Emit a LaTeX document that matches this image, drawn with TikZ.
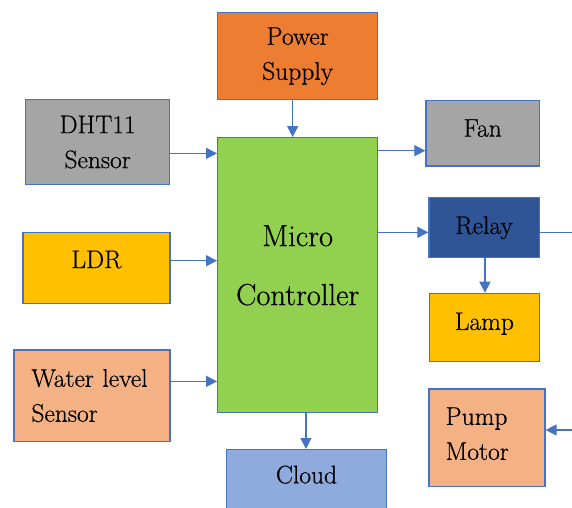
\documentclass[tikz,border=0pt]{standalone}
\usepackage{fontspec}
\setmainfont{Latin Modern Roman}[FakeBold=0.5]
\usetikzlibrary{arrows.meta}
\definecolor{bordc}{HTML}{4472C4}
\definecolor{cpower}{HTML}{ED7D31}
\definecolor{cgray}{HTML}{A5A5A5}
\definecolor{cgreen}{HTML}{92D050}
\definecolor{crelay}{HTML}{2F5597}
\definecolor{cyellow}{HTML}{FFC000}
\definecolor{csalmon}{HTML}{F4B183}
\definecolor{ccloud}{HTML}{8FAADC}
\begin{document}
\begin{tikzpicture}[x=1pt,y=-1pt,
  blk/.style={draw=bordc, line width=1.3pt, anchor=north west, inner sep=0pt,
    align=center, font=\rmfamily\fontsize{25.5}{35}\selectfont},
  oneline/.style={text height=17pt},
  conn/.style={draw=bordc, line width=1.3pt, -{Triangle[length=11pt,width=11pt]}},
  plain/.style={draw=bordc, line width=1.3pt}]
\useasboundingbox (0,0) rectangle (572,507);
\clip (0,0) rectangle (572,507);
% nodes
\node[blk, fill=cpower, minimum width=160pt, minimum height=87pt] (power) at (217,12) {Power\\Supply};
\node[blk, fill=cgray, minimum width=144pt, minimum height=85pt] (dht) at (25,99) {DHT11\\Sensor};
\node[blk, oneline, text depth=17pt, fill=cyellow, minimum width=147pt, minimum height=70.7pt] (ldr) at (22.3,232) {LDR};
\node[blk, fill=csalmon, minimum width=156pt, minimum height=91.4pt, align=left, text width=121pt] (water) at (13.3,349.3) {Water level\\Sensor};
\node[blk, fill=cgreen, minimum width=160pt, minimum height=275pt, font=\rmfamily\fontsize{30.5}{59}\selectfont] (micro) at (217,137) {Micro\\Controller\rule[-20pt]{0pt}{0pt}};
\node[blk, oneline, text depth=10.3pt, fill=cgray, minimum width=113.4pt, minimum height=65.3pt] (fan) at (425.3,100) {Fan};
\node[blk, oneline, text depth=3.8pt, fill=crelay, minimum width=110.4pt, minimum height=60pt] (relay) at (428.3,196.7) {Relay};
\node[blk, oneline, text depth=11.8pt, fill=cyellow, minimum width=110pt, minimum height=68pt] (lamp) at (428.7,292.7) {Lamp};
\node[blk, oneline, text depth=19.6pt, fill=ccloud, minimum width=159.7pt, minimum height=70pt] (cloud) at (226,449) {Cloud};
\node[blk, fill=csalmon, minimum width=116pt, minimum height=97.4pt, align=left, text width=82.6pt] (pump) at (428.3,388.3) {Pump\\Motor\rule[-8pt]{0pt}{0pt}};
% free ends
\path ([yshift=-5pt]relay.east) ++(40,0) coordinate (rout);
\coordinate (pin) at (572,430);
% connectors
\draw[conn] ([xshift=-5pt]power.south) -- ([xshift=-5pt]power.south |- micro.north);
\draw[conn] ([yshift=-11.2pt]dht.east) -- ([yshift=-11.2pt]dht.east -| micro.west);
\draw[conn] ([yshift=7.3pt]ldr.east) -- ([yshift=7.3pt]ldr.east -| micro.west);
\draw[conn] ([yshift=14.3pt]water.east) -- ([yshift=14.3pt]water.east -| micro.west);
\draw[conn] ([yshift=-17.35pt]fan.west -| micro.east) -- ([yshift=-17.35pt]fan.west);
\draw[conn] ([yshift=-5pt]relay.west -| micro.east) -- ([yshift=-5pt]relay.west);
\draw[plain] ([yshift=-5pt]relay.east) -- (rout);
\draw[conn] ([xshift=0.8pt]relay.south) -- ([xshift=0.8pt]relay.south |- lamp.north);
\draw[conn] ([xshift=8.3pt]micro.south) -- ([xshift=8.3pt]micro.south |- cloud.north);
\draw[conn] (pin) -- (pin -| pump.east);
\end{tikzpicture}
\end{document}
